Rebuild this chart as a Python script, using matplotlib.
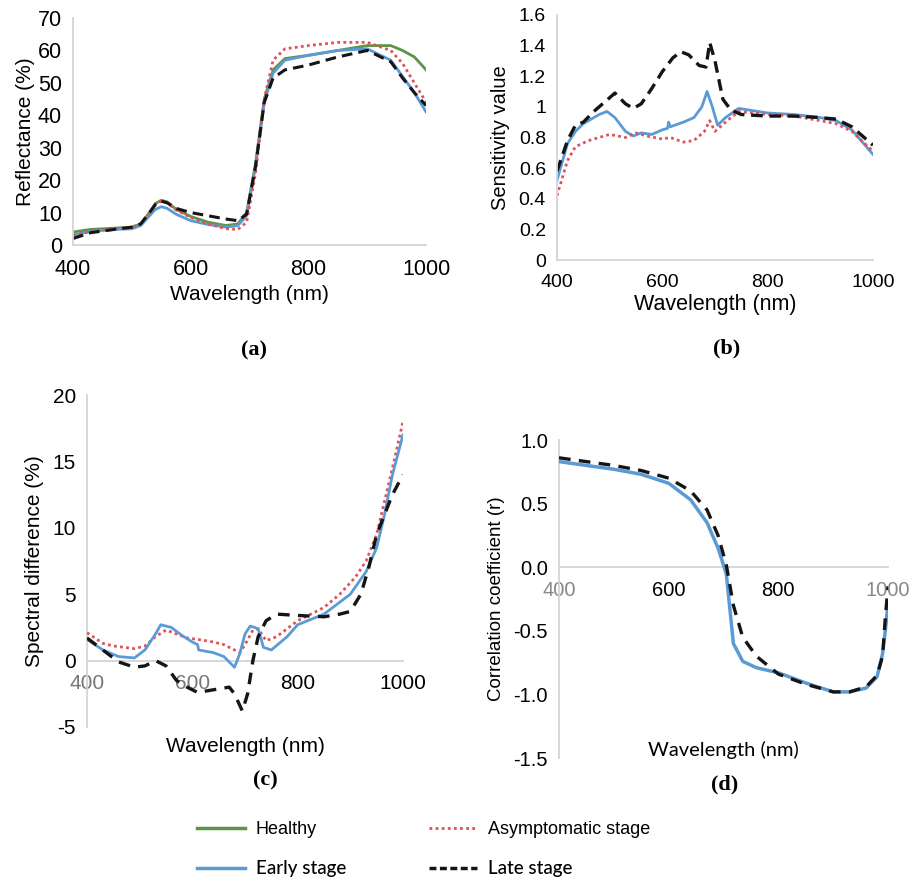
import matplotlib
matplotlib.use('Agg')
import matplotlib.pyplot as plt
from matplotlib.lines import Line2D

plt.rcParams['font.family'] = ['Liberation Sans', 'DejaVu Sans']

# (a) reflectance (%)
wl_a = [400, 430, 470, 500, 515, 530, 540, 550, 560, 575, 600, 630, 660, 680, 695, 710, 725, 740, 760, 800, 850, 900, 940, 960, 980, 1000]
healthy_a = [4.0, 4.8, 5.2, 5.5, 6.5, 10.0, 12.8, 13.8, 13.3, 11.0, 8.8, 7.0, 6.0, 6.5, 10.0, 25.0, 45.0, 54.0, 57.5, 58.5, 60.0, 61.5, 61.5, 60.0, 58.0, 54.0]
asym_a = [3.0, 4.2, 5.0, 5.5, 6.5, 10.0, 12.5, 13.5, 13.0, 10.8, 8.5, 6.5, 5.0, 4.8, 7.0, 22.0, 45.0, 57.0, 60.5, 61.5, 62.5, 62.5, 60.0, 56.0, 50.0, 44.0]
early_a = [3.0, 4.2, 4.8, 5.0, 6.0, 9.0, 11.0, 11.8, 11.3, 9.5, 7.5, 6.3, 5.5, 6.0, 9.0, 24.0, 44.0, 53.0, 57.0, 58.5, 60.0, 60.5, 57.0, 52.0, 47.0, 41.0]
late_a = [2.0, 3.8, 4.8, 5.5, 6.5, 10.0, 12.5, 13.5, 13.0, 11.3, 10.0, 9.0, 8.0, 7.5, 9.5, 24.0, 44.0, 51.5, 54.0, 55.5, 58.0, 60.0, 56.5, 51.5, 47.0, 43.0]

# (b) sensitivity value
wl_b_late = [400, 420, 435, 450, 470, 500, 510, 530, 545, 560, 580, 600, 620, 635, 650, 670, 683, 690, 700, 715, 730, 750, 800, 850, 900, 930, 960, 1000]
late_b = [0.58, 0.78, 0.88, 0.90, 0.97, 1.06, 1.09, 1.02, 0.99, 1.02, 1.12, 1.23, 1.32, 1.36, 1.34, 1.27, 1.26, 1.42, 1.30, 1.05, 0.98, 0.95, 0.94, 0.94, 0.93, 0.92, 0.87, 0.75]
wl_b_early = [400, 420, 435, 450, 480, 495, 510, 530, 545, 560, 580, 600, 610, 612, 615, 640, 660, 675, 685, 695, 705, 720, 745, 800, 850, 900, 930, 960, 1000]
early_b = [0.52, 0.76, 0.84, 0.89, 0.95, 0.97, 0.93, 0.84, 0.81, 0.83, 0.82, 0.85, 0.86, 0.90, 0.87, 0.90, 0.93, 1.00, 1.10, 1.00, 0.88, 0.93, 0.99, 0.96, 0.95, 0.93, 0.91, 0.85, 0.69]
wl_b_asym = [400, 420, 435, 460, 500, 530, 550, 570, 600, 615, 640, 660, 680, 690, 700, 720, 745, 800, 850, 900, 930, 960, 1000]
asym_b = [0.42, 0.65, 0.74, 0.78, 0.82, 0.80, 0.83, 0.81, 0.79, 0.80, 0.77, 0.78, 0.84, 0.91, 0.84, 0.90, 0.97, 0.95, 0.94, 0.91, 0.89, 0.84, 0.71]

# (c) spectral difference (%)
wl_c_asym = [400, 430, 450, 490, 510, 530, 550, 570, 590, 610, 640, 660, 690, 700, 715, 725, 740, 760, 800, 850, 880, 910, 930, 950, 965, 980, 1000]
asym_c = [2.1, 1.3, 1.1, 0.9, 1.1, 1.8, 2.3, 2.0, 1.7, 1.6, 1.4, 1.2, 0.6, 1.2, 2.3, 2.4, 1.5, 1.8, 3.0, 4.0, 5.0, 6.3, 7.5, 9.5, 12.0, 14.5, 18.0]
wl_c_early = [400, 430, 460, 490, 510, 530, 540, 560, 580, 600, 610, 612, 640, 660, 680, 690, 700, 710, 725, 735, 750, 780, 800, 850, 900, 930, 950, 965, 980, 990, 1000]
early_c = [1.6, 0.8, 0.3, 0.2, 0.8, 2.0, 2.7, 2.5, 1.9, 1.4, 1.2, 0.8, 0.6, 0.3, -0.5, 0.5, 2.0, 2.6, 2.4, 1.0, 0.8, 1.8, 2.7, 3.5, 5.0, 6.7, 8.5, 11.0, 14.0, 15.5, 17.0]
wl_c_late = [400, 430, 460, 490, 510, 530, 550, 570, 590, 610, 640, 670, 680, 695, 705, 715, 725, 740, 760, 800, 850, 880, 900, 920, 935, 950, 965, 980, 1000]
late_c = [1.7, 0.8, -0.1, -0.5, -0.4, 0.0, -0.4, -1.5, -2.0, -2.4, -2.2, -2.0, -2.5, -3.8, -2.5, 0.0, 1.8, 3.0, 3.5, 3.4, 3.3, 3.5, 3.7, 5.0, 7.0, 9.5, 11.0, 12.5, 14.0]

# (d) correlation coefficient (r)
wl_d = [400, 450, 500, 550, 600, 640, 670, 690, 705, 718, 735, 760, 800, 850, 900, 930, 960, 980, 990, 995, 1000]
early_d = [0.83, 0.80, 0.77, 0.73, 0.66, 0.53, 0.35, 0.15, -0.05, -0.60, -0.74, -0.79, -0.83, -0.91, -0.98, -0.98, -0.95, -0.86, -0.68, -0.50, -0.28]
asym_d = [0.83, 0.80, 0.77, 0.73, 0.66, 0.53, 0.35, 0.15, -0.05, -0.60, -0.74, -0.79, -0.83, -0.91, -0.98, -0.98, -0.95, -0.86, -0.68, -0.50, -0.30]
late_d = [0.86, 0.83, 0.80, 0.76, 0.70, 0.60, 0.45, 0.25, 0.02, -0.30, -0.55, -0.70, -0.84, -0.92, -0.98, -0.98, -0.94, -0.85, -0.70, -0.40, -0.15]

C_GREEN = '#5e9445'
C_BLUE = '#5b9bd5'
C_RED = '#e0505a'
C_BLACK = '#151515'
SPINE = '#d4d4d4'


def style(ax, xlim, ylim, yticks, ylabels, fs):
    ax.set_xlim(*xlim)
    ax.set_ylim(*ylim)
    ax.set_xticks([400, 600, 800, 1000])
    ax.set_yticks(yticks)
    ax.set_yticklabels(ylabels)
    for s in ['top', 'right']:
        ax.spines[s].set_visible(False)
    for s in ['left', 'bottom']:
        ax.spines[s].set_color(SPINE)
        ax.spines[s].set_linewidth(1.3)
    ax.tick_params(length=0, labelsize=fs)
    ax.tick_params(axis='x', pad=10)
    ax.tick_params(axis='y', pad=8)


fig = plt.figure(figsize=(9.14, 8.8), dpi=100)

# (a)
ax = fig.add_axes([0.0799, 0.7216, 0.3863, 0.2579])
ax.plot(wl_a, healthy_a, color=C_GREEN, lw=2)
ax.plot(wl_a, early_a, color=C_BLUE, lw=2)
ax.plot(wl_a, asym_a, color=C_RED, lw=2, ls=(0, (1, 1.2)))
ax.plot(wl_a, late_a, color=C_BLACK, lw=2.2, ls=(0, (3.5, 2)))
style(ax, (400, 1000), (0, 70), range(0, 71, 10), [str(v) for v in range(0, 71, 10)], 15.5)
ax.set_xlabel('Wavelength (nm)', fontsize=15, labelpad=4)
ax.set_ylabel('Reflectance (%)', fontsize=15, labelpad=2)

# (b)
ax = fig.add_axes([0.6094, 0.7045, 0.3457, 0.2785])
ax.plot(wl_b_early, early_b, color=C_BLUE, lw=2)
ax.plot(wl_b_asym, asym_b, color=C_RED, lw=2, ls=(0, (1, 1.2)))
ax.plot(wl_b_late, late_b, color=C_BLACK, lw=2.4, ls=(0, (3.5, 2)))
yb = [0, 0.2, 0.4, 0.6, 0.8, 1.0, 1.2, 1.4, 1.6]
style(ax, (400, 1000), (0, 1.6), yb, ['0', '0.2', '0.4', '0.6', '0.8', '1', '1.2', '1.4', '1.6'], 14)
ax.set_xlabel('Wavelength (nm)', fontsize=15.5, labelpad=2)
ax.set_ylabel('Sensitivity value', fontsize=14.5, labelpad=6)

# (c)
ax = fig.add_axes([0.0952, 0.1739, 0.3457, 0.3772])
ax.plot(wl_c_asym, asym_c, color=C_RED, lw=2, ls=(0, (1, 1.2)), zorder=3)
ax.plot(wl_c_early, early_c, color=C_BLUE, lw=2, zorder=3)
ax.plot(wl_c_late, late_c, color=C_BLACK, lw=2.4, ls=(0, (3.5, 2.5)), zorder=4)
style(ax, (400, 1000), (-5, 20), range(-5, 21, 5), [str(v) for v in range(-5, 21, 5)], 15)
ax.spines['bottom'].set_position(('data', 0))
ax.set_ylabel('Spectral difference (%)', fontsize=15, labelpad=6)
ax.set_xlabel('Wavelength (nm)', fontsize=15)
ax.xaxis.set_label_coords(0.5, -0.03)
for t in ax.get_xticklabels()[:2]:
    t.set_color('#777777')

# (d)
ax = fig.add_axes([0.6116, 0.1386, 0.3600, 0.3614])
ax.plot(wl_d, asym_d, color=C_RED, lw=1.5, ls=(0, (1, 1.2)), zorder=3)
ax.plot(wl_d, early_d, color=C_BLUE, lw=2.5, zorder=3)
ax.plot(wl_d, late_d, color=C_BLACK, lw=2.4, ls=(0, (3.5, 2.5)), zorder=4)
yd = [-1.5, -1.0, -0.5, 0.0, 0.5, 1.0]
style(ax, (400, 1000), (-1.5, 1.0), yd, ['-1.5', '-1.0', '-0.5', '0.0', '0.5', '1.0'], 14.5)
ax.spines['bottom'].set_position(('data', 0))
ax.set_ylabel('Correlation coefficient (r)', fontsize=13.5, labelpad=6)
ax.set_xlabel('Wavelength (nm)', fontsize=14.5, family=['Lato', 'DejaVu Sans'])
ax.xaxis.set_label_coords(0.5, 0.055)
xl = ax.get_xticklabels()
xl[0].set_color('#888888')
xl[-1].set_color('#888888')

# panel letters
serif = ['Liberation Serif', 'DejaVu Serif']
fig.text(0.278, 0.602, '(a)', fontsize=16, fontweight='bold', family=serif, ha='center', va='center')
fig.text(0.795, 0.604, '(b)', fontsize=16, fontweight='bold', family=serif, ha='center', va='center')
fig.text(0.290, 0.113, '(c)', fontsize=16, fontweight='bold', family=serif, ha='center', va='center')
fig.text(0.793, 0.108, '(d)', fontsize=16, fontweight='bold', family=serif, ha='center', va='center')

# legend
handles = [
    Line2D([], [], color=C_GREEN, lw=2.5),
    Line2D([], [], color=C_BLUE, lw=2.5),
    Line2D([], [], color=C_RED, lw=2, ls=(0, (1, 1.2))),
    Line2D([], [], color=C_BLACK, lw=2.5, ls=(0, (2, 1))),
]
labels = ['Healthy', 'Early stage', 'Asymptomatic stage', 'Late stage']
leg = fig.legend(handles, labels, loc='center left', bbox_to_anchor=(0.198, 0.035), ncol=2, frameon=False,
                 fontsize=13, handlelength=2.65, handletextpad=0.6, columnspacing=4.6, labelspacing=1.25)
for i in (1, 3):
    leg.get_texts()[i].set_family(['Lato', 'DejaVu Sans'])
    leg.get_texts()[i].set_fontweight('medium')
    leg.get_texts()[i].set_fontsize(13.5)

fig.savefig('out.png', dpi=100)
